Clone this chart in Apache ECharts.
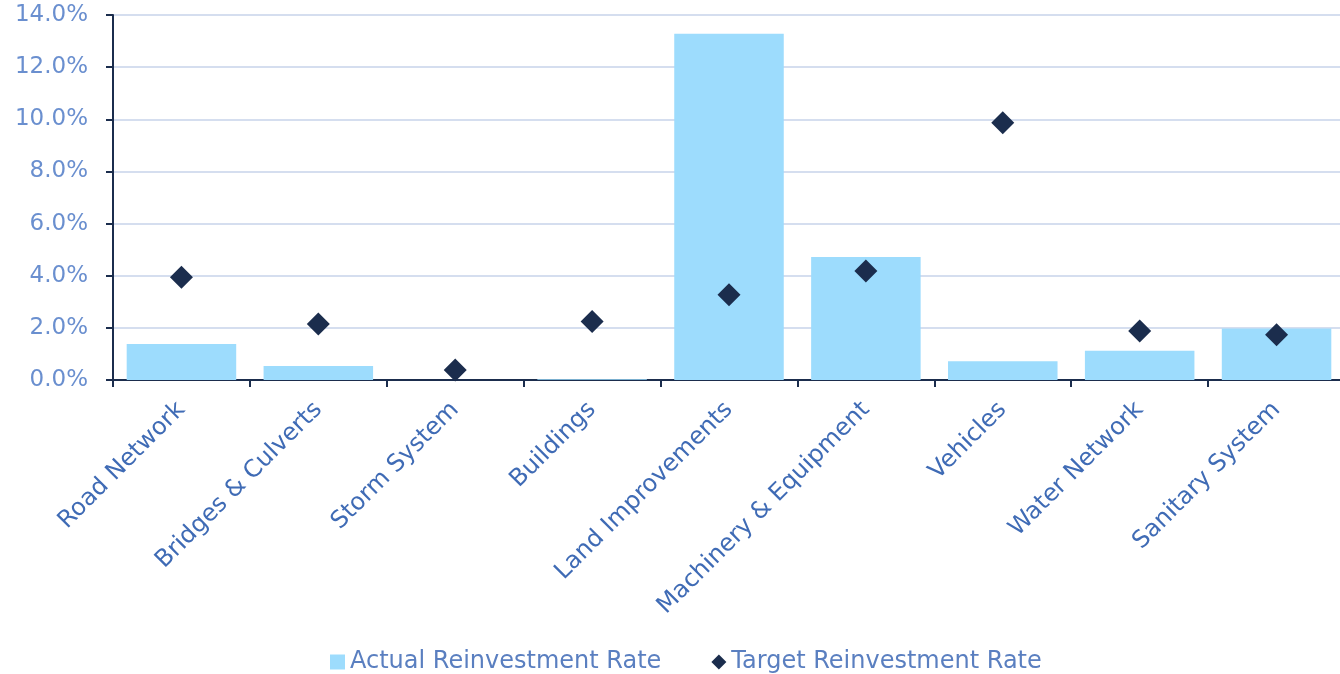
<!DOCTYPE html>
<html>
<head>
<meta charset="utf-8">
<script src="https://cdn.jsdelivr.net/npm/echarts@6/dist/echarts.min.js"></script>
<style>
  html, body { margin: 0; padding: 0; background: #ffffff; }
  #chart { width: 1340px; height: 674px; }
</style>
</head>
<body>
<div id="chart"></div>
<script>
// Asset categories along the x axis
const categories = [
  'Road Network', 'Bridges & Culverts', 'Storm System', 'Buildings',
  'Land Improvements', 'Machinery & Equipment', 'Vehicles',
  'Water Network', 'Sanitary System'
];
// Reinvestment rates, in percent
const actualRate = [1.38, 0.54, 0.0, 0.03, 13.28, 4.72, 0.72, 1.12, 1.98];
const targetRate = [3.94, 2.15, 0.38, 2.24, 3.27, 4.18, 9.87, 1.88, 1.74];
const seriesNames = ['Actual Reinvestment Rate', 'Target Reinvestment Rate'];

const FONT = 'DejaVu Sans';
const chart = echarts.init(document.getElementById('chart'));

chart.setOption({
  animation: false,
  textStyle: { fontFamily: FONT },
  grid: {
    left: 113, top: 15, width: 1232, height: 365,
    containLabel: false,
    outerBoundsMode: 'none'
  },
  legend: {
    top: 645,
    left: 325,
    itemWidth: 15,
    itemHeight: 15,
    itemGap: 50,
    textStyle: { color: '#5a7fc0', fontSize: 24, fontFamily: FONT },
    data: [
      { name: seriesNames[0], icon: 'rect' },
      { name: seriesNames[1], icon: 'diamond', itemStyle: { color: '#1b2d4d', opacity: 1 } }
    ]
  },
  xAxis: {
    type: 'category',
    data: categories,
    boundaryGap: true,
    axisLine: { lineStyle: { color: '#1b2d4d', width: 2 } },
    axisTick: { show: true, length: 7, lineStyle: { color: '#1b2d4d', width: 2 } },
    axisLabel: {
      rotate: 45,
      interval: 0,
      margin: 26,
      color: '#3f6bb5',
      fontSize: 24,
      fontFamily: FONT
    }
  },
  yAxis: {
    type: 'value',
    min: 0,
    max: 14,
    interval: 2,
    axisLine: { show: true, lineStyle: { color: '#1b2d4d', width: 2 } },
    axisTick: { show: true, length: 7, lineStyle: { color: '#1b2d4d', width: 2 } },
    splitLine: { lineStyle: { color: '#d5deef', width: 2 } },
    axisLabel: {
      color: '#6a8fcf',
      fontSize: 23,
      fontFamily: FONT,
      margin: 25,
      formatter: v => v.toFixed(1) + '%'
    }
  },
  series: [
    {
      name: seriesNames[0],
      type: 'bar',
      data: actualRate,
      barCategoryGap: '20%',
      itemStyle: { color: '#9ddcfd' },
      z: 2
    },
    {
      name: seriesNames[1],
      type: 'scatter',
      data: targetRate,
      symbol: 'diamond',
      symbolSize: [23, 23],
      itemStyle: { color: '#1b2d4d', opacity: 1 },
      z: 3
    }
  ]
});
</script>
</body>
</html>
